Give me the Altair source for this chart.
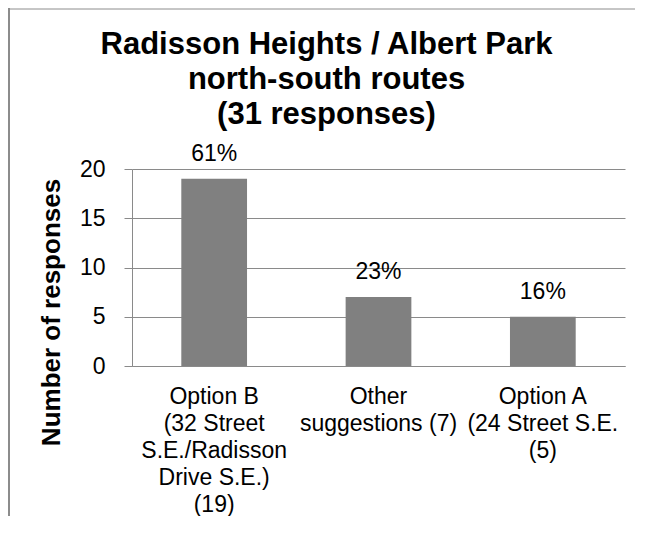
import altair as alt
import pandas as pd

categories = [
    "Option B\n(32 Street\nS.E./Radisson\nDrive S.E.)\n(19)",
    "Other\nsuggestions (7)",
    "Option A\n(24 Street S.E.\n(5)",
]
responses = [19, 7, 5]
percent_labels = ["61%", "23%", "16%"]
title_lines = ["Radisson Heights / Albert Park", "north-south routes", "(31 responses)"]
y_ticks = [0, 5, 10, 15, 20]

df = pd.DataFrame({"category": categories, "responses": responses, "pct": percent_labels})
frame_df = pd.DataFrame({"k": [0]})

FONT = "Liberation Sans"
GRID = "#8a8a8a"

x_enc = alt.X(
    "category:N",
    sort=categories,
    scale=alt.Scale(paddingInner=0.6, paddingOuter=0.3),
    axis=alt.Axis(
        title=None,
        grid=False,
        labelAngle=0,
        labelExpr="split(datum.value, '\\n')",
        labelFont=FONT,
        labelFontSize=23,
        labelLineHeight=27,
        labelPadding=19,
        labelColor="black",
        labelLimit=400,
        ticks=False,
        domainColor=GRID,
    ),
)
y_enc = alt.Y(
    "responses:Q",
    scale=alt.Scale(domain=[0, 20]),
    axis=alt.Axis(
        values=y_ticks,
        grid=True,
        title="Number of responses",
        titleFont=FONT,
        titleFontSize=26,
        titleFontWeight="bold",
        titleColor="black",
        titleAngle=270,
        titleAlign="center",
        titleBaseline="alphabetic",
        titleX=-73,
        titleY=143,
        labelFont=FONT,
        labelFontSize=23,
        labelColor="black",
        labelPadding=19,
        tickSize=8,
        tickColor=GRID,
        domainColor=GRID,
        gridColor=GRID,
    ),
)

bars = alt.Chart(df).mark_bar(color="#808080").encode(x=x_enc, y=y_enc)
labels = alt.Chart(df).mark_text(
    dy=-18, baseline="alphabetic", fontSize=23, font=FONT, color="black"
).encode(x=alt.X("category:N", sort=categories), y="responses:Q", text="pct:N")

left_border = alt.Chart(frame_df).mark_rule(color="#8c8c8c", strokeWidth=2).encode(
    x=alt.value(-123), y=alt.value(-161), y2=alt.value(370)
)
top_border = alt.Chart(frame_df).mark_rule(color="#8c8c8c", strokeWidth=1).encode(
    x=alt.value(-124), x2=alt.value(520), y=alt.value(-160)
)

chart = (
    alt.layer(left_border, top_border, bars, labels)
    .properties(
        width=493,
        height=197,
        padding={"left": 124, "top": 161, "right": 10, "bottom": 150},
        autosize=alt.AutoSizeParams(type="none"),
        title=alt.TitleParams(
            text=title_lines,
            font=FONT,
            fontSize=31,
            fontWeight="bold",
            color="black",
            anchor="middle",
            frame="group",
            baseline="top",
            dx=-52,
            lineHeight=35,
            offset=-124,
        ),
    )
    .configure_view(stroke=None)
)

chart.save("out.html", embed_options={"renderer": "svg", "actions": False})
